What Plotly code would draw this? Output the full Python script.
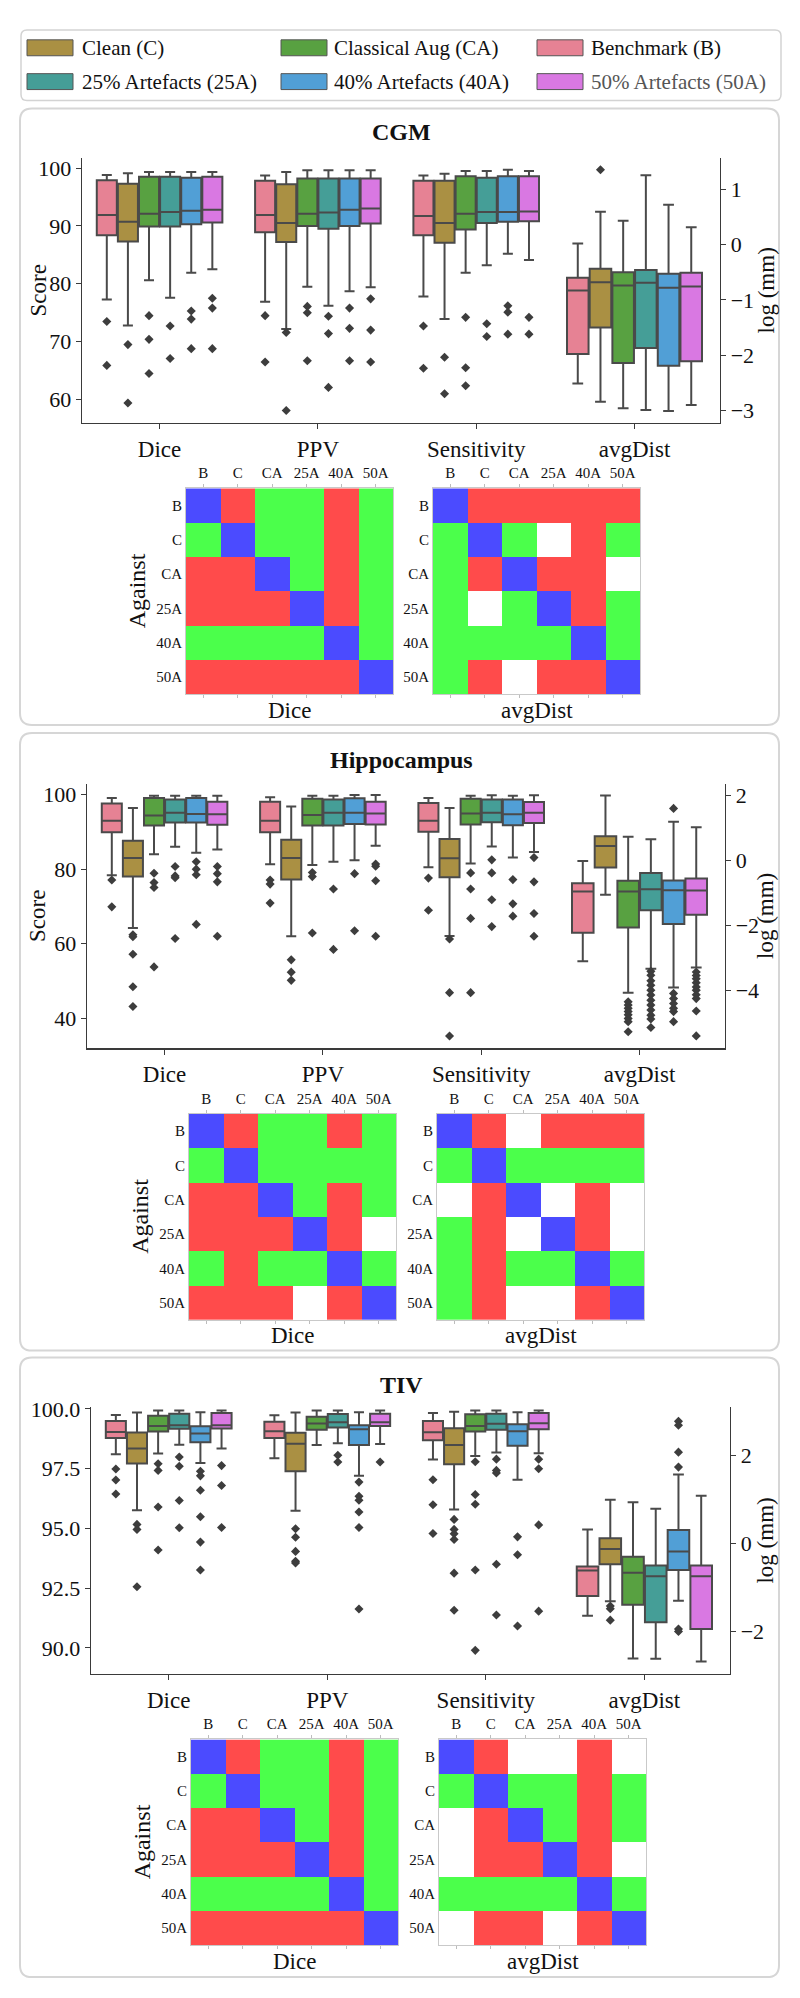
import plotly.graph_objects as go

W, H = 800, 1998
FONT = "Liberation Serif, Times New Roman, DejaVu Serif, serif"

MODELS = ["B", "C", "CA", "25A", "40A", "50A"]
METRICS = ["Dice", "PPV", "Sensitivity", "avgDist"]
MODEL_COLORS = ["#E68294", "#AA9043", "#58A141", "#459E97", "#519FD6", "#D978E2"]
LEGEND_ROWS = [["C", "CA", "B"], ["25A", "40A", "50A"]]
LEGEND_LABELS = {"B": "Benchmark (B)", "C": "Clean (C)", "CA": "Classical Aug (CA)",
                 "25A": "25% Artefacts (25A)", "40A": "40% Artefacts (40A)",
                 "50A": "50% Artefacts (50A)"}

# ---------------- CGM (values per metric: Dice, PPV, Sensitivity, avgDist[log mm]) ----
CGM_LO = {"B": [77.3, 76.9, 77.8, -2.51], "C": [72.8, 72.2, 73.9, -2.84], "CA": [80.6, 79.5, 81.9, -2.96],
          "25A": [77.6, 76.2, 83.2, -2.99], "40A": [81.9, 78.7, 85.2, -3.01], "50A": [82.5, 79.4, 84.1, -2.90]}
CGM_Q1 = {"B": [88.4, 88.9, 88.4, -1.98], "C": [87.3, 87.2, 87.1, -1.50], "CA": [89.9, 90.0, 89.4, -2.14],
          "25A": [89.9, 89.5, 90.5, -1.87], "40A": [90.3, 90.0, 90.7, -2.19], "50A": [90.6, 90.4, 90.8, -2.11]}
CGM_MED = {"B": [91.9, 91.9, 91.7, -0.83], "C": [90.7, 90.5, 90.5, -0.68], "CA": [92.1, 92.1, 92.1, -0.74],
           "25A": [92.4, 92.3, 92.4, -0.69], "40A": [92.6, 92.8, 92.4, -0.78], "50A": [92.8, 93.0, 92.5, -0.76]}
CGM_Q3 = {"B": [97.9, 97.8, 97.8, -0.60], "C": [97.3, 97.2, 97.8, -0.44], "CA": [98.5, 98.2, 98.6, -0.50],
          "25A": [98.5, 98.2, 98.3, -0.46], "40A": [98.3, 98.2, 98.6, -0.53], "50A": [98.5, 98.2, 98.6, -0.51]}
CGM_HI = {"B": [98.8, 98.7, 98.7, 0.02], "C": [99.1, 99.3, 99.0, 0.59], "CA": [99.3, 99.6, 99.5, 0.43],
          "25A": [99.3, 99.6, 99.5, 1.25], "40A": [99.3, 99.6, 99.7, 0.72], "50A": [99.3, 99.6, 99.5, 0.31]}
CGM_OUT = {"B": [[73.5, 65.9], [74.5, 66.5], [72.7, 65.4], []],
           "C": [[69.5, 59.4], [71.6, 58.1], [67.3, 61.0], [1.35]],
           "CA": [[74.5, 70.4, 64.5], [76.1, 75.0, 66.7], [74.2, 65.5, 62.4], []],
           "25A": [[72.7, 67.1], [74.4, 71.4, 62.1], [73.1, 70.9], []],
           "40A": [[75.3, 73.9, 68.8], [75.8, 72.3, 66.7], [76.2, 75.1, 71.3], []],
           "50A": [[77.5, 75.8, 68.8], [77.4, 72.0, 66.5], [74.2, 71.3], []]}

# ---------------- Hippocampus ----
HIP_LO = {"B": [78.4, 81.3, 80.5, -3.11], "C": [64.2, 62.0, 62.1, -1.06], "CA": [84.0, 81.1, 81.5, -4.08],
          "25A": [86.0, 82.0, 86.1, -3.34], "40A": [84.4, 82.4, 83.1, -3.92], "50A": [85.3, 86.3, 84.6, -3.30]}
HIP_Q1 = {"B": [89.9, 89.9, 90.0, -2.23], "C": [78.0, 77.2, 77.8, -0.22], "CA": [91.7, 91.7, 92.0, -2.07],
          "25A": [92.5, 91.7, 92.6, -1.54], "40A": [92.5, 92.1, 91.8, -1.96], "50A": [91.9, 92.0, 92.4, -1.68]}
HIP_MED = {"B": [93.0, 93.0, 93.0, -0.96], "C": [83.0, 83.0, 82.9, 0.44], "CA": [94.4, 94.5, 94.9, -0.96],
           "25A": [95.1, 95.1, 95.1, -0.89], "40A": [94.8, 95.1, 94.7, -0.92], "50A": [94.7, 94.9, 95.1, -0.93]}
HIP_Q3 = {"B": [97.6, 98.1, 97.7, -0.71], "C": [87.6, 87.9, 88.1, 0.74], "CA": [99.1, 98.9, 98.9, -0.63],
          "25A": [98.7, 98.7, 98.7, -0.39], "40A": [99.1, 99.0, 98.7, -0.62], "50A": [98.1, 98.1, 98.0, -0.56]}
HIP_HI = {"B": [99.1, 99.3, 99.1, -0.02], "C": [96.4, 96.8, 96.4, 2.0], "CA": [99.7, 99.7, 99.7, 0.73],
          "25A": [99.7, 99.7, 99.8, 0.65], "40A": [99.7, 99.9, 99.7, 1.19], "50A": [99.7, 99.9, 99.8, 1.02]}
HIP_OUT = {"B": [[77.1, 69.9], [77.1, 76.0, 70.9], [77.6, 69.0], []],
           "C": [[62.4, 61.9, 57.2, 48.5, 43.2], [55.7, 52.4, 50.2], [61.3, 46.9, 35.3], []],
           "CA": [[78.9, 76.4, 75.1, 53.8], [79.1, 78.0, 62.9], [79.0, 74.7, 66.8, 46.9],
                  [-4.36, -4.46, -4.56, -4.66, -4.76, -4.87, -4.97, -5.28]],
           "25A": [[80.7, 78.2, 77.7, 61.4], [74.7, 58.5], [82.5, 79.0, 71.8, 64.6],
                   [-3.42, -3.54, -3.71, -3.85, -4.0, -4.15, -4.31, -4.46, -4.61, -4.77, -4.89, -5.15]],
           "40A": [[82.0, 80.0, 78.5, 65.2], [78.8, 63.5], [77.2, 70.7, 67.4],
                   [1.60, -4.10, -4.26, -4.41, -4.56, -4.66, -4.97]],
           "50A": [[80.7, 78.8, 76.6, 62.0], [81.4, 80.8, 76.9, 62.0], [83.1, 76.6, 68.1, 62.0],
                   [-3.44, -3.55, -3.65, -3.77, -3.90, -4.0, -4.14, -4.26, -4.64, -5.41]]}

# ---------------- TIV ----
TIV_LO = {"B": [98.1, 97.94, 97.88, -1.65], "C": [95.76, 95.74, 95.79, -1.32], "CA": [98.14, 98.49, 98.03, -2.62],
          "25A": [98.5, 98.56, 98.18, -2.63], "40A": [97.74, 97.21, 97.04, -1.31], "50A": [98.35, 98.53, 98.15, -2.69]}
TIV_Q1 = {"B": [98.78, 98.78, 98.69, -1.2], "C": [97.72, 97.39, 97.69, -0.48], "CA": [99.06, 99.13, 99.06, -1.4],
          "25A": [99.17, 99.22, 99.13, -1.8], "40A": [98.61, 98.49, 98.46, -0.61], "50A": [99.18, 99.29, 99.15, -1.95]}
TIV_MED = {"B": [99.04, 99.07, 99.03, -0.62], "C": [98.35, 98.54, 98.49, -0.13], "CA": [99.29, 99.39, 99.29, -0.67],
           "25A": [99.32, 99.44, 99.38, -0.75], "40A": [98.97, 99.15, 99.07, -0.19], "50A": [99.32, 99.44, 99.4, -0.75]}
TIV_Q3 = {"B": [99.5, 99.46, 99.5, -0.53], "C": [99.01, 99.0, 99.19, 0.11], "CA": [99.72, 99.67, 99.78, -0.31],
          "25A": [99.8, 99.79, 99.8, -0.51], "40A": [99.28, 99.32, 99.36, 0.3], "50A": [99.83, 99.8, 99.83, -0.51]}
TIV_HI = {"B": [99.75, 99.74, 99.83, 0.31], "C": [99.85, 99.85, 99.88, 0.99], "CA": [99.93, 99.93, 99.93, 0.93],
          "25A": [99.93, 99.93, 99.93, 0.78], "40A": [99.86, 99.86, 99.86, 1.56], "50A": [99.93, 99.93, 99.93, 1.08]}
TIV_OUT = {"B": [[97.49, 97.03, 96.44], [], [97.04, 95.99, 94.79], []],
           "C": [[95.17, 94.96, 92.56], [94.99, 94.63, 94.04, 93.63, 93.56],
                 [95.38, 94.96, 94.78, 94.54, 93.13, 91.58], [-1.43, -1.49, -1.75]],
           "CA": [[97.71, 97.43, 95.9, 94.1], [], [97.79, 96.42, 96.01, 93.26, 89.9], []],
           "25A": [[97.99, 97.6, 96.17, 95.03], [98.06, 97.78], [97.9, 97.43, 97.32, 93.5, 91.38], []],
           "40A": [[97.39, 97.2, 96.6, 95.49, 94.43, 93.26], [96.94, 96.35, 96.18, 95.69, 95.04, 91.63],
                   [94.65, 93.9, 90.92], [2.77, 2.68, 2.07, 1.73, -1.95, -2.01]],
           "50A": [[97.63, 96.8, 95.04], [97.78], [97.9, 97.5, 95.15, 91.54], []]}

# ---------------- significance matrices (0 = n.s., 1 = better, 2 = worse, 3 = self) ----
CGM_DICE_SIG = [[3, 2, 1, 1, 2, 1], [1, 3, 1, 1, 2, 1], [2, 2, 3, 1, 2, 1],
                [2, 2, 2, 3, 2, 1], [1, 1, 1, 1, 3, 1], [2, 2, 2, 2, 2, 3]]
CGM_DIST_SIG = [[3, 2, 2, 2, 2, 2], [1, 3, 1, 0, 2, 1], [1, 2, 3, 2, 2, 0],
                [1, 0, 1, 3, 2, 1], [1, 1, 1, 1, 3, 1], [1, 2, 0, 2, 2, 3]]
HIP_DICE_SIG = [[3, 2, 1, 1, 2, 1], [1, 3, 1, 1, 1, 1], [2, 2, 3, 1, 2, 1],
                [2, 2, 2, 3, 2, 0], [1, 2, 1, 1, 3, 1], [2, 2, 2, 0, 2, 3]]
HIP_DIST_SIG = [[3, 2, 0, 2, 2, 2], [1, 3, 1, 1, 1, 1], [0, 2, 3, 0, 2, 0],
                [1, 2, 0, 3, 2, 0], [1, 2, 1, 1, 3, 1], [1, 2, 0, 0, 2, 3]]
TIV_DICE_SIG = [[3, 2, 1, 1, 2, 1], [1, 3, 1, 1, 2, 1], [2, 2, 3, 1, 2, 1],
                [2, 2, 2, 3, 2, 1], [1, 1, 1, 1, 3, 1], [2, 2, 2, 2, 2, 3]]
TIV_DIST_SIG = [[3, 2, 0, 0, 2, 0], [1, 3, 1, 1, 2, 1], [0, 2, 3, 1, 2, 1],
                [0, 2, 2, 3, 2, 0], [1, 1, 1, 1, 3, 1], [0, 2, 2, 0, 2, 3]]

SIG_COLORSCALE = [[0, "#ffffff"], [1 / 6, "#ffffff"], [1 / 6, "#4bff4b"], [0.5, "#4bff4b"],
                  [0.5, "#ff4b4b"], [5 / 6, "#ff4b4b"], [5 / 6, "#4b4bff"], [1, "#4b4bff"]]

# ---------------- layout (pixel geometry) ----
PANELS = [
    dict(name="CGM", stats=(CGM_LO, CGM_Q1, CGM_MED, CGM_Q3, CGM_HI), out=CGM_OUT,
         sig=(CGM_DICE_SIG, CGM_DIST_SIG),
         box_x=(82, 720), box_y=(148, 414), lrange=(56.0, 101.7), ldtick=10, ltick0=0, lfmt="",
         rrange=(-3.22, 1.56), rdtick=1, heat_y=(480, 687), heat_x=((186, 393), (433, 640)),
         frame=(98, 718), title_y=122, score=True),
    dict(name="Hippocampus", stats=(HIP_LO, HIP_Q1, HIP_MED, HIP_Q3, HIP_HI), out=HIP_OUT,
         sig=(HIP_DICE_SIG, HIP_DIST_SIG),
         box_x=(87, 725), box_y=(777, 1043), lrange=(32.0, 102.9), ldtick=20, ltick0=0, lfmt="",
         rrange=(-5.79, 2.36), rdtick=2, heat_y=(1109, 1316), heat_x=((189, 396), (437, 644)),
         frame=(726, 1347), title_y=753, score=True),
    dict(name="TIV", stats=(TIV_LO, TIV_Q1, TIV_MED, TIV_Q3, TIV_HI), out=TIV_OUT,
         sig=(TIV_DICE_SIG, TIV_DIST_SIG),
         box_x=(91, 730), box_y=(1404, 1672), lrange=(88.92, 100.07), ldtick=2.5, ltick0=90, lfmt=".1f",
         rrange=(-2.97, 3.09), rdtick=2, heat_y=(1738, 1945), heat_x=((191, 398), (439, 646)),
         frame=(1354, 1977), title_y=1382, score=False),
]

XRANGE = (-0.49, 3.54)
GROUP_W_SCORE = 0.80
GROUP_W_DIST = 0.86
LINE_C = "#4a4a4a"
AX_C = "#3a3a3a"


def fx(px):
    return px / W


def fy(py):
    return 1 - py / H


def ax_name(kind, n):
    return kind if n == 1 else f"{kind}{n}"


fig = go.Figure()
layout = dict(width=W, height=H, margin=dict(l=0, r=0, t=0, b=0, pad=0), autosize=False,
              paper_bgcolor="white", plot_bgcolor="rgba(0,0,0,0)", showlegend=False,
              font=dict(family=FONT, color="#111"))
annotations = []
shapes = []


def rrect(x0, y0, x1, y1, r, color, width):
    rx, ry = r / W, r / H
    X0, X1 = fx(x0), fx(x1)
    Y0, Y1 = fy(y0), fy(y1)  # Y0 top, Y1 bottom
    path = (f"M {X0 + rx},{Y0} L {X1 - rx},{Y0} Q {X1},{Y0} {X1},{Y0 - ry} "
            f"L {X1},{Y1 + ry} Q {X1},{Y1} {X1 - rx},{Y1} L {X0 + rx},{Y1} "
            f"Q {X0},{Y1} {X0},{Y1 + ry} L {X0},{Y0 - ry} Q {X0},{Y0} {X0 + rx},{Y0} Z")
    return dict(type="path", path=path, xref="paper", yref="paper",
                line=dict(color=color, width=width), fillcolor="rgba(0,0,0,0)", layer="below")


def ann(x, y, text, size, angle=0, xanchor="center", color="#111", bold=False):
    t = f"<b>{text}</b>" if bold else text
    annotations.append(dict(x=fx(x), y=fy(y), xref="paper", yref="paper", text=t, showarrow=False,
                            textangle=angle, xanchor=xanchor, yanchor="middle",
                            font=dict(family=FONT, size=size, color=color)))


for p, P in enumerate(PANELS):
    xb = 3 * p + 1
    xh1, xh2 = 3 * p + 2, 3 * p + 3
    yl, yr, yh1, yh2 = 4 * p + 1, 4 * p + 2, 4 * p + 3, 4 * p + 4
    LO, Q1, MED, Q3, HI = P["stats"]
    for m, model in enumerate(MODELS):
        col = MODEL_COLORS[m]
        off_s = (m - 2.5) * GROUP_W_SCORE / 6
        off_d = (m - 2.5) * GROUP_W_DIST / 6
        common = dict(fillcolor=col, line=dict(color=LINE_C, width=2), whiskerwidth=0.5,
                      boxpoints=False, hoverinfo="skip", showlegend=False)
        fig.add_trace(go.Box(x=[k + off_s for k in range(3)], q1=Q1[model][:3], median=MED[model][:3],
                             q3=Q3[model][:3], lowerfence=LO[model][:3], upperfence=HI[model][:3],
                             width=GROUP_W_SCORE / 6 * 0.95, xaxis=ax_name("x", xb), yaxis=ax_name("y", yl),
                             **common))
        fig.add_trace(go.Box(x=[3 + off_d], q1=Q1[model][3:], median=MED[model][3:],
                             q3=Q3[model][3:], lowerfence=LO[model][3:], upperfence=HI[model][3:],
                             width=GROUP_W_DIST / 6 * 0.95, xaxis=ax_name("x", xb), yaxis=ax_name("y", yr),
                             **common))
        ox, oy = [], []
        for k in range(3):
            for v in P["out"][model][k]:
                ox.append(k + off_s)
                oy.append(v)
        mk = dict(symbol="diamond", size=7, color="#3d3d3d")
        fig.add_trace(go.Scatter(x=ox, y=oy, mode="markers", marker=mk, hoverinfo="skip",
                                 xaxis=ax_name("x", xb), yaxis=ax_name("y", yl)))
        dv = P["out"][model][3]
        fig.add_trace(go.Scatter(x=[3 + off_d] * len(dv), y=dv, mode="markers", marker=mk,
                                 hoverinfo="skip", xaxis=ax_name("x", xb), yaxis=ax_name("y", yr)))

    bx0, bx1 = P["box_x"]
    by0, by1 = P["box_y"]
    layout[ax_name("xaxis", xb)] = dict(domain=[fx(bx0), fx(bx1)], anchor=ax_name("y", yl), range=list(XRANGE),
                                        tickvals=[0, 1, 2, 3], ticktext=METRICS, showline=True, linecolor=AX_C,
                                        linewidth=1.3, ticks="outside", ticklen=5, tickcolor=AX_C,
                                        tickfont=dict(size=23, family=FONT, color="#111"), showgrid=False,
                                        zeroline=False)
    layout[ax_name("yaxis", yl)] = dict(domain=[fy(by1), fy(by0)], anchor=ax_name("x", xb), range=list(P["lrange"]),
                                        dtick=P["ldtick"], tick0=P["ltick0"], tickformat=P["lfmt"],
                                        showline=True, linecolor=AX_C, linewidth=1.3, ticks="outside", ticklen=5,
                                        tickcolor=AX_C, tickfont=dict(size=22, family=FONT, color="#111"),
                                        showgrid=False, zeroline=False)
    layout[ax_name("yaxis", yr)] = dict(overlaying=ax_name("y", yl), side="right", anchor=ax_name("x", xb),
                                        range=list(P["rrange"]), dtick=P["rdtick"], tick0=0,
                                        showline=True, linecolor=AX_C, linewidth=1.3, ticks="outside", ticklen=5,
                                        tickcolor=AX_C, tickfont=dict(size=22, family=FONT, color="#111"),
                                        showgrid=False, zeroline=False)

    hy0, hy1 = P["heat_y"]
    for j, (xa, ya, sig) in enumerate(((xh1, yh1, P["sig"][0]), (xh2, yh2, P["sig"][1]))):
        hx0, hx1 = P["heat_x"][j]
        fig.add_trace(go.Heatmap(z=sig, x=MODELS, y=MODELS, colorscale=SIG_COLORSCALE, zmin=0, zmax=3,
                                 showscale=False, hoverinfo="skip", xgap=0, ygap=0,
                                 xaxis=ax_name("x", xa), yaxis=ax_name("y", ya)))
        layout[ax_name("xaxis", xa)] = dict(domain=[fx(hx0), fx(hx1)], anchor=ax_name("y", ya), side="top",
                                            type="category", showline=True, mirror="ticks", linecolor="#c9c9c9",
                                            linewidth=1, ticks="outside", ticklen=3, tickcolor="#bdbdbd",
                                            tickwidth=1, showgrid=False, zeroline=False,
                                            tickfont=dict(size=15, family=FONT, color="#111"))
        layout[ax_name("yaxis", ya)] = dict(domain=[fy(hy1), fy(hy0)], anchor=ax_name("x", xa), type="category",
                                            autorange="reversed", showline=True, mirror=True,
                                            linecolor="#c9c9c9", linewidth=1, ticks="", showgrid=False,
                                            zeroline=False, tickfont=dict(size=15, family=FONT, color="#111"))
        ann((hx0 + hx1) / 2, hy1 + 16, ["Dice", "avgDist"][j], 23)
    ann(P["heat_x"][0][0] - 49, (hy0 + hy1) / 2, "Against", 24, angle=-90)

    ann(402, P["title_y"], P["name"], 24, bold=True)
    if P["score"]:
        ann(38, (by0 + by1) / 2, "Score", 23, angle=-90)
    ann(766, (by0 + by1) / 2, "log (mm)", 23, angle=-90)

    f0, f1 = P["frame"]
    shapes.append(rrect(20, f0, 779, f1, 12, "#d6d6d6", 2))

# legend
shapes.append(rrect(21, 19, 781, 90, 6, "#d3d3d3", 1.5))
SW_X = [27, 281, 537]
TX_X = [80, 332, 589]
ROW_Y = [37, 71]
for r, row in enumerate(LEGEND_ROWS):
    for c, model in enumerate(row):
        col = MODEL_COLORS[MODELS.index(model)]
        shapes.append(dict(type="rect", xref="paper", yref="paper", x0=fx(SW_X[c]), x1=fx(SW_X[c] + 46),
                           y0=fy(ROW_Y[r] + 8), y1=fy(ROW_Y[r] - 8), fillcolor=col,
                           line=dict(color="#555555", width=1)))
        ann(TX_X[c], ROW_Y[r], LEGEND_LABELS[model], 21, xanchor="left",
            color="#555555" if model == "50A" else "#111")

layout["annotations"] = annotations
layout["shapes"] = shapes
fig.update_layout(**layout)
fig.write_html("out.html", config={"displayModeBar": False, "staticPlot": True},
               post_script="document.documentElement.style.margin='0px';"
                           "document.documentElement.style.overflow='hidden';"
                           "document.body.style.margin='0px';document.body.style.padding='0px';"
                           "document.body.style.overflow='hidden';")
